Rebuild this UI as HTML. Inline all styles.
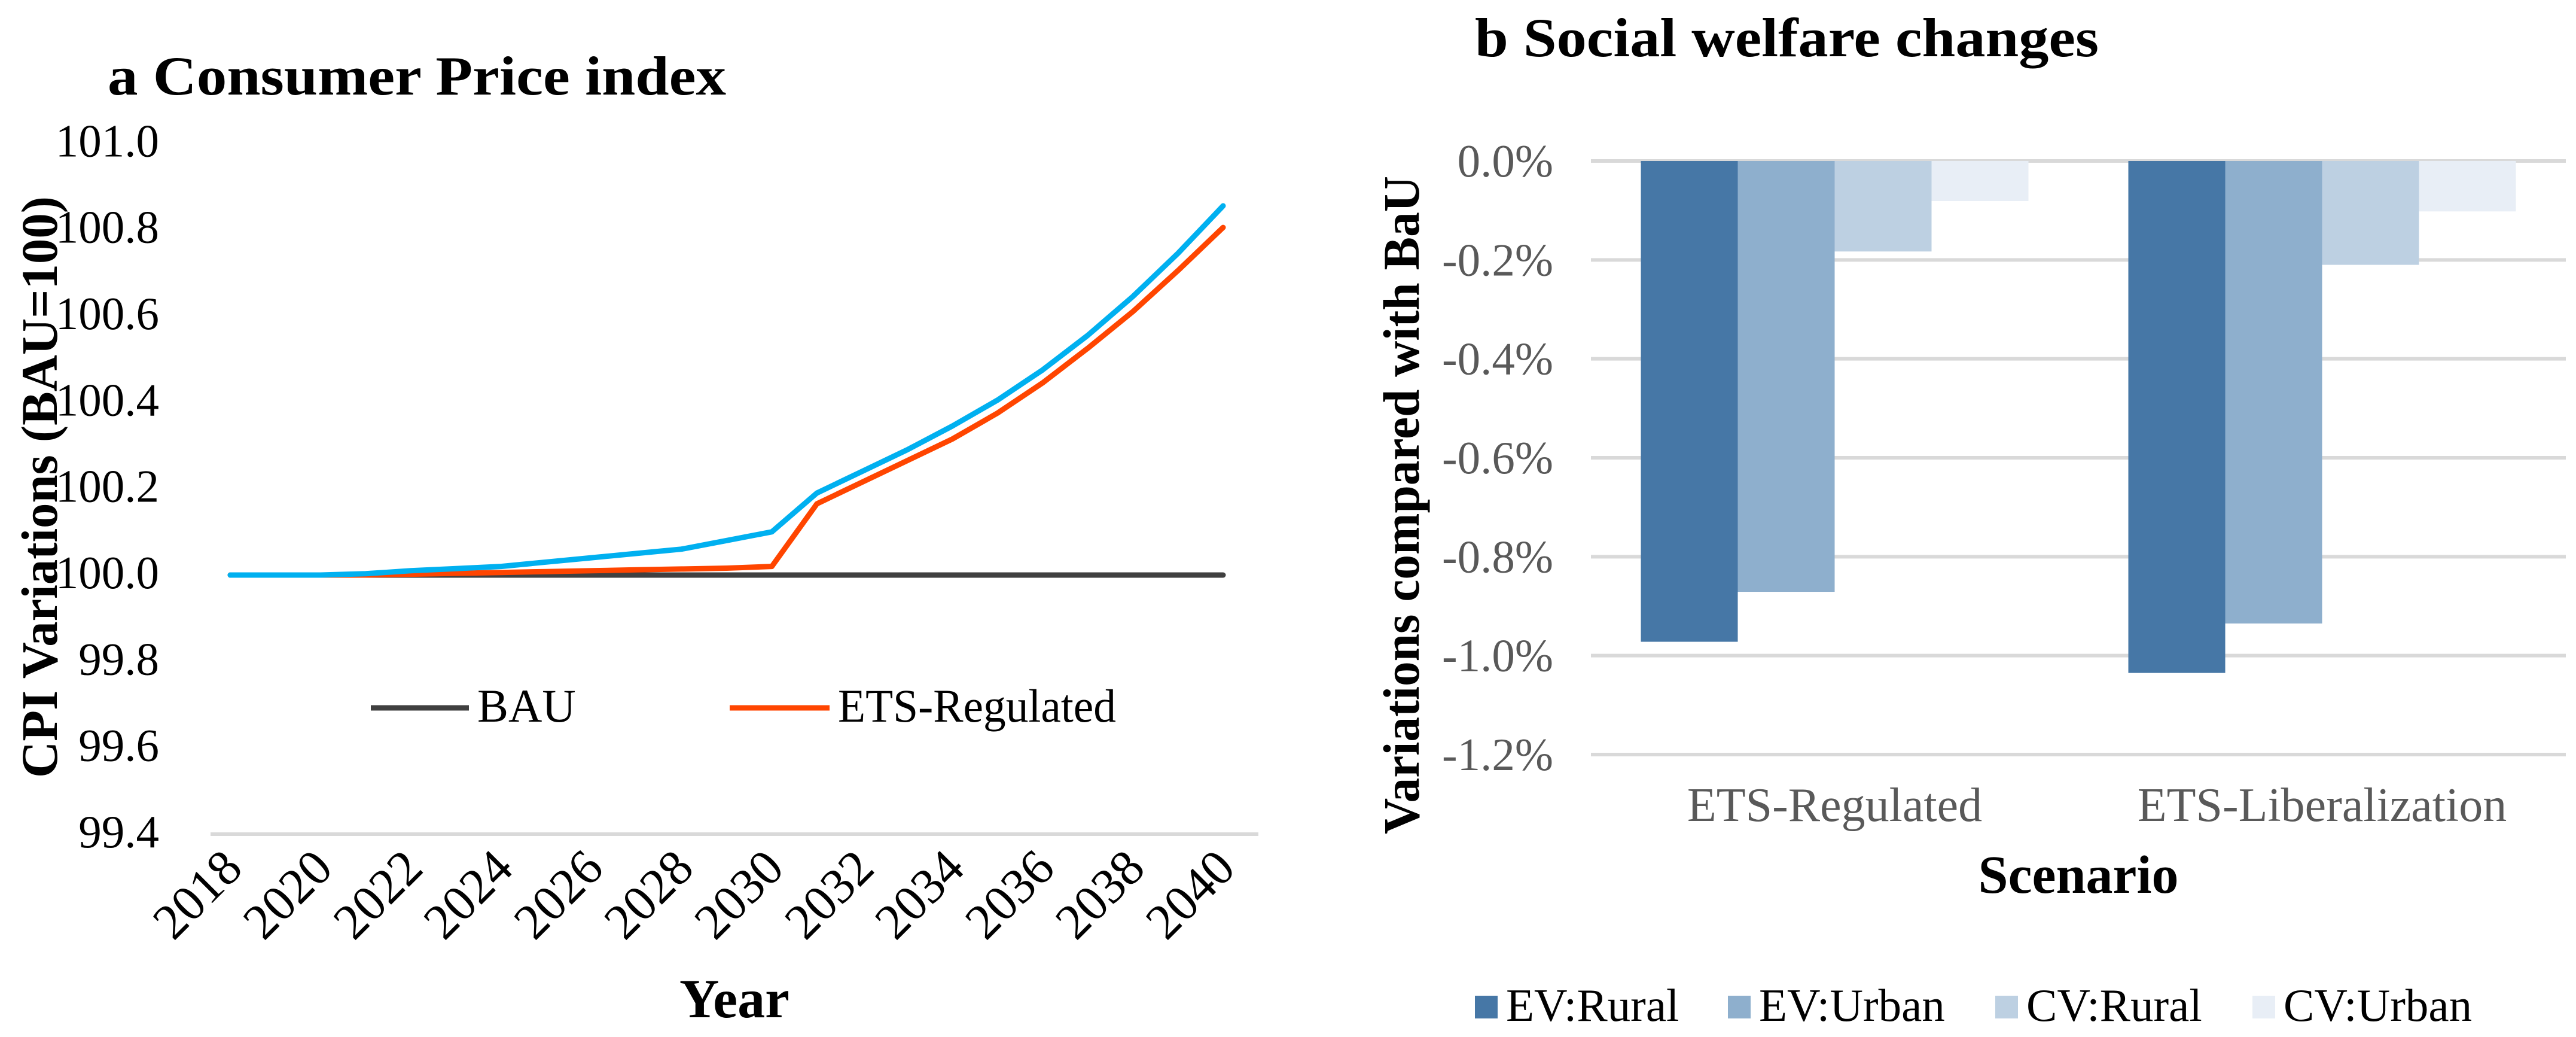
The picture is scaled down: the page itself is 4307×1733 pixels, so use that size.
<!DOCTYPE html>
<html><head><meta charset="utf-8"><style>
html,body{margin:0;padding:0;background:#fff;}
svg{display:block;font-family:"Liberation Serif",serif;}
</style></head><body>
<svg id="s" width="4307" height="1733" viewBox="0 0 4307 1733" xmlns="http://www.w3.org/2000/svg">
<rect width="4307" height="1733" fill="#fff"/>
<g id="left">
<text x="180" y="158" font-size="92" font-weight="bold" textLength="1034" lengthAdjust="spacingAndGlyphs">a Consumer Price index</text>
<text transform="translate(95,814) rotate(-90)" text-anchor="middle" font-size="86" font-weight="bold" textLength="972" lengthAdjust="spacingAndGlyphs">CPI Variations (BAU=100)</text>
<text x="1228" y="1700" text-anchor="middle" font-size="92" font-weight="bold">Year</text>
<g id="lg">
<line x1="620" y1="1183" x2="784" y2="1183" stroke="#404040" stroke-width="9"/>
<text x="798" y="1206" font-size="78">BAU</text>
<line x1="1220" y1="1183" x2="1387" y2="1183" stroke="#FF4500" stroke-width="9"/>
<text x="1401" y="1206" font-size="78" textLength="465" lengthAdjust="spacingAndGlyphs">ETS-Regulated</text>
</g>
</g>
<g id="right">
<text x="2466" y="94" font-size="92" font-weight="bold" textLength="1043" lengthAdjust="spacingAndGlyphs">b Social welfare changes</text>
<text transform="translate(2372,844) rotate(-90)" text-anchor="middle" font-size="86" font-weight="bold" textLength="1100" lengthAdjust="spacingAndGlyphs">Variations compared with BaU</text>
<text x="3475" y="1492" text-anchor="middle" font-size="90" font-weight="bold">Scenario</text>
</g>
</svg>
<script>
const years=[2018,2019,2020,2021,2022,2023,2024,2025,2026,2027,2028,2029,2030,2031,2032,2033,2034,2035,2036,2037,2038,2039,2040];
const bau=[100,100,100,100,100,100,100,100,100,100,100,100,100,100,100,100,100,100,100,100,100,100,100];
const etsReg=[100,100,100,100,100.002,100.004,100.006,100.008,100.01,100.012,100.014,100.016,100.02,100.165,100.215,100.265,100.315,100.375,100.445,100.525,100.61,100.705,100.805];
const etsLib=[100,100,100,100.003,100.01,100.015,100.02,100.03,100.04,100.05,100.06,100.08,100.1,100.19,100.24,100.29,100.345,100.405,100.475,100.555,100.645,100.745,100.855];
const yTicks=[99.4,99.6,99.8,100.0,100.2,100.4,100.6,100.8,101.0];
const xTickYears=[2018,2020,2022,2024,2026,2028,2030,2032,2034,2036,2038,2040];

const scenarios=["ETS-Regulated","ETS-Liberalization"];
const seriesNames=["EV:Rural","EV:Urban","CV:Rural","CV:Urban"];
const evRural=[-0.972,-1.035];
const evUrban=[-0.871,-0.935];
const cvRural=[-0.183,-0.21];
const cvUrban=[-0.081,-0.102];
const pctTicks=[0,-0.2,-0.4,-0.6,-0.8,-1.0,-1.2];

const NS="http://www.w3.org/2000/svg";
function mk(tag,attrs,parent,txt){const e=document.createElementNS(NS,tag);for(const k in attrs)e.setAttribute(k,attrs[k]);if(txt!==undefined)e.textContent=txt;parent.appendChild(e);return e;}
const L=document.getElementById('left'), R=document.getElementById('right');
const xL=y=>385+(y-2018)*(2045-385)/22;
const yL=v=>961-(v-100)*(1394-961)/0.6;
let g=mk('line',{x1:352,x2:2104,y1:yL(99.4),y2:yL(99.4),stroke:'#D9D9D9','stroke-width':6},L);


yTicks.forEach(t=>{const e=mk('text',{x:266,y:yL(t)+22,'text-anchor':'end','font-size':77},L,t.toFixed(1));

});
xTickYears.forEach(y=>{const x=xL(y);const e=mk('text',{transform:`translate(${x+24},${1455}) rotate(-45)`,'text-anchor':'end','font-size':84},L,String(y));

});
function line(data,color,name){const d=data.map((v,i)=>(i?'L':'M')+xL(years[i]).toFixed(1)+' '+yL(v).toFixed(1)).join(' ');
const p=mk('path',{d:d,fill:'none',stroke:color,'stroke-width':9,'stroke-linejoin':'round','stroke-linecap':'round'},L);

}
line(bau,'#404040','bau-line');
line(etsReg,'#FF4500','ets-regulated-line');
line(etsLib,'#00B0F0','ets-liberalization-line');
L.appendChild(document.getElementById('lg'));
const y0=269, per=(1261-269)/1.2;
const yR=v=>y0-v*per;
pctTicks.forEach(t=>{const gl=mk('line',{x1:2660,x2:4290,y1:yR(t),y2:yR(t),stroke:'#D9D9D9','stroke-width':6},R);


const e=mk('text',{x:2597,y:yR(t)+26,'text-anchor':'end','font-size':77,fill:'#595959'},R,t.toFixed(1)+'%');

});
const colors=['#4677A6','#8EAFCD','#BDD0E2','#E8EEF6'];
const series=[evRural,evUrban,cvRural,cvUrban];
const catW=(4290-2660)/scenarios.length, bw=162;
scenarios.forEach((s,ci)=>{const cx=2660+catW*(ci+0.5);
series.forEach((arr,si)=>{const x=cx-2*bw+si*bw;const v=arr[ci];
const r=mk('rect',{x:x,y:yR(0),width:bw,height:yR(v)-yR(0),fill:colors[si]},R);

});
const t=mk('text',{x:cx,y:1372,'text-anchor':'middle','font-size':80,fill:'#595959'},R,s);

});
const legX=[2466,2889,3336,3766];
seriesNames.forEach((n,i)=>{const sq=mk('rect',{x:legX[i],y:1664,width:38,height:38,fill:colors[i]},R);


const t=mk('text',{x:legX[i]+52,y:1706,'font-size':77},R,n);

});
</script>
</body></html>
